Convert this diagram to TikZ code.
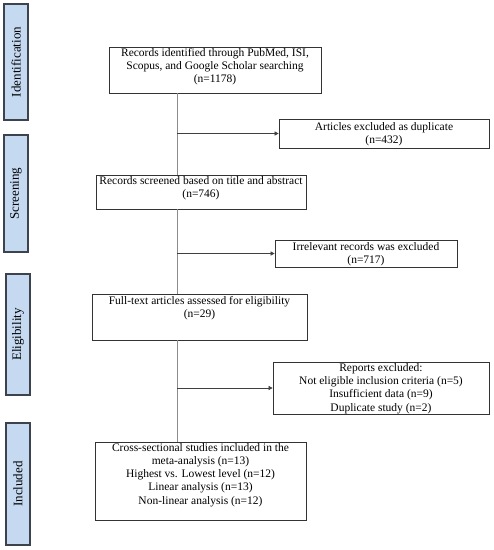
\documentclass[tikz,border=0pt]{standalone}
\usepackage{fontspec}
\setmainfont{Liberation Serif}
\usetikzlibrary{arrows.meta,calc}
\definecolor{sidefill}{RGB}{197,217,241}
\definecolor{sideline}{RGB}{60,66,78}
\definecolor{vline}{RGB}{140,140,140}
\begin{document}
\begin{tikzpicture}[x=1pt,y=-1pt,
  box/.style={draw=black!80, line width=0.7pt, rectangle, inner sep=0pt},
  side/.style={draw=sideline, fill=sidefill, line width=1.2pt, rectangle, inner sep=0pt},
  sidetxt/.style={rotate=90, font=\fontsize{13}{14}\selectfont},
  txt/.style={align=center, inner sep=0pt, font=\fontsize{11.5}{13.2}\selectfont},
  arr/.style={draw=black!75, line width=0.6pt, -{Triangle[length=4pt,width=4pt]}},
  ln/.style={draw=vline, line width=0.6pt}]
\useasboundingbox (0,0) rectangle (494,550);
% side boxes
\node[side, minimum width=24pt, minimum height=116pt] (sid) at (16,62) {};
\node[sidetxt] (sidt) at (sid.center) {Identification};
\node[side, minimum width=24pt, minimum height=117pt] (sscr) at (16,193.5) {};
\node[sidetxt] (sscrt) at (sscr.center) {Screening};
\node[side, minimum width=24pt, minimum height=121pt] (selg) at (18,334.5) {};
\node[sidetxt] (selgt) at (selg.center) {Eligibility};
\node[side, minimum width=24pt, minimum height=122pt] (sinc) at (18,484) {};
\node[sidetxt] (sinct) at (sinc.center) {Included};
% main boxes
\node[box, minimum width=212pt, minimum height=46pt] (b1) at (215,70) {};
\node[txt] (b1t) at (215,66.5) {Records identified through PubMed, ISI,\\Scopus, and Google Scholar searching\\(n=1178)};
\node[box, minimum width=210pt, minimum height=34pt] (b2) at (201,192) {};
\node[txt] (b2t) at (201,188.5) {Records screened based on title and abstract\\(n=746)};
\node[box, minimum width=215pt, minimum height=46pt] (b3) at (199.5,317) {};
\node[txt] (b3t) at (199.5,308.5) {Full-text articles assessed for eligibility\\(n=29)};
\node[box, minimum width=211pt, minimum height=78pt] (b4) at (200.5,481) {};
\node[txt] (b4t) at (200.5,475) {Cross-sectional studies included in the\\meta-analysis (n=13)\\Highest vs. Lowest level (n=12)\\Linear analysis (n=13)\\Non-linear analysis (n=12)};
% exclusion boxes
\node[box, minimum width=210pt, minimum height=29pt] (e1) at (384,133.5) {};
\node[txt] (e1t) at (384,134.5) {Articles excluded as duplicate\\(n=432)};
\node[box, minimum width=182pt, minimum height=27pt] (e2) at (366,253.5) {};
\node[txt] (e2t) at (366,254) {Irrelevant records was excluded\\(n=717)};
\node[box, minimum width=216pt, minimum height=52pt] (e3) at (381,388) {};
\node[txt] (e3t) at (381,388.5) {Reports excluded:\\Not eligible inclusion criteria (n=5)\\Insufficient data (n=9)\\Duplicate study (n=2)};
% connectors
\coordinate (vx) at (177,0);
\draw[ln] (b1.south -| vx) -- (b2.north -| vx);
\draw[ln] (b2.south -| vx) -- (b3.north -| vx);
\draw[ln] (b3.south -| vx) -- (b4.north -| vx);
\draw[arr] (vx |- e1.west) -- (e1.west);
\draw[arr] (vx |- e2.west) -- (e2.west);
\draw[arr] (vx |- e3.west) -- (e3.west);
\end{tikzpicture}
\end{document}
